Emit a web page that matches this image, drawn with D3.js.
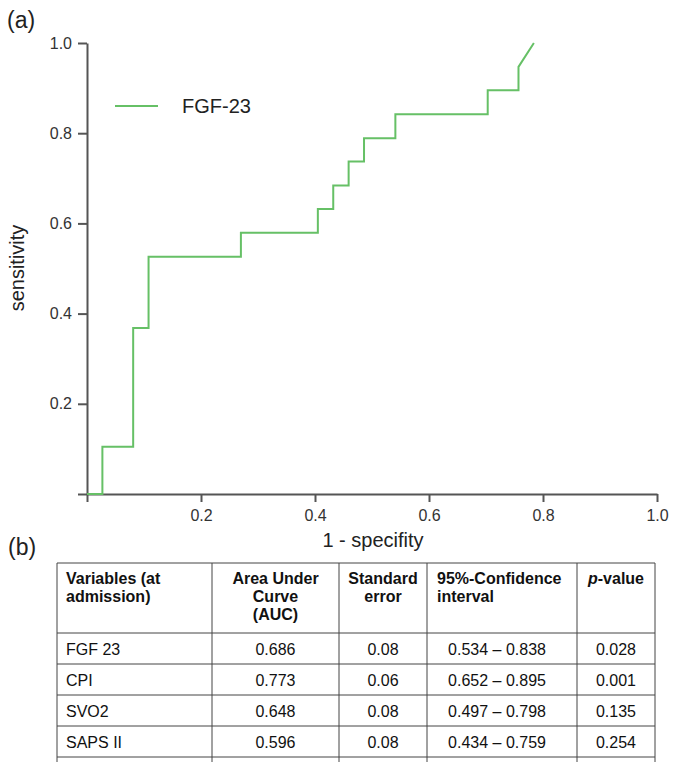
<html>
<head>
<script src="https://cdn.jsdelivr.net/npm/d3@7"></script>
<style>
  body { margin: 0; background: #fff; }
  text { font-family: Arial, "Liberation Sans", sans-serif; }
</style>
</head>
<body>
<svg width="676" height="762"></svg>
<script>
// ROC curve vertices for FGF-23
var rocFpr  = [0, 0.027, 0.027, 0.081, 0.081, 0.108, 0.108, 0.270, 0.270, 0.405, 0.405, 0.432, 0.432, 0.459, 0.459, 0.486, 0.486, 0.541, 0.541, 0.703, 0.703, 0.757, 0.757, 0.784]
var rocSens = [0, 0, 0.105, 0.105, 0.368, 0.368, 0.526, 0.526, 0.579, 0.579, 0.632, 0.632, 0.684, 0.684, 0.737, 0.737, 0.789, 0.789, 0.842, 0.842, 0.895, 0.895, 0.947, 1.0]
var tickVals = [0, 0.2, 0.4, 0.6, 0.8, 1.0]
var seriesName = 'FGF-23'

// table (b)
var headers = [['Variables (at', 'admission)'], ['Area Under', 'Curve', '(AUC)'], ['Standard', 'error'], ['95%-Confidence', 'interval'], ['p-value']]
var variables = ['FGF 23', 'CPI', 'SVO2', 'SAPS II']
var auc = ['0.686', '0.773', '0.648', '0.596']
var stdErr = ['0.08', '0.06', '0.08', '0.08']
var ci = ['0.534 – 0.838', '0.652 – 0.895', '0.497 – 0.798', '0.434 – 0.759']
var pValue = ['0.028', '0.001', '0.135', '0.254']

var svg = d3.select('svg')
var green = '#66c066'

var x = d3.scaleLinear().domain([0, 1]).range([87, 657])
var y = d3.scaleLinear().domain([0, 1]).range([494, 43])
var fmt = function(d){ return d === 0 ? '' : d3.format('.1f')(d) }

var gy = svg.append('g').attr('transform', 'translate(87,0)')
    .call(d3.axisLeft(y).tickValues(tickVals).tickFormat(fmt).tickSize(9).tickSizeOuter(0).tickPadding(6))
var gx = svg.append('g').attr('transform', 'translate(0,494)')
    .call(d3.axisBottom(x).tickValues(tickVals).tickFormat(fmt).tickSize(8).tickSizeOuter(0).tickPadding(8))
svg.selectAll('.domain, .tick line').attr('stroke', '#555').attr('stroke-width', 2)
svg.selectAll('.tick text').attr('font-size', 16).attr('fill', '#333')

// curve
var pts = rocFpr.map(function(d, i){ return [d, rocSens[i]] })
svg.append('path')
    .datum(pts)
    .attr('fill', 'none')
    .attr('stroke', green)
    .attr('stroke-width', 2)
    .attr('d', d3.line().x(function(d){ return x(d[0]) }).y(function(d){ return y(d[1]) }))

// legend
svg.append('line').attr('x1', 115).attr('x2', 158).attr('y1', 106).attr('y2', 106)
    .attr('stroke', green).attr('stroke-width', 2)
svg.append('text').attr('x', 182).attr('y', 113).attr('font-size', 20).attr('fill', '#222').text(seriesName)

// labels
svg.append('text').attr('x', 7).attr('y', 28).attr('font-size', 23).attr('fill', '#222').text('(a)')
svg.append('text').attr('x', 8).attr('y', 555).attr('font-size', 23).attr('fill', '#222').text('(b)')
svg.append('text').attr('transform', 'translate(24,268) rotate(-90)').attr('text-anchor', 'middle')
    .attr('font-size', 20).attr('fill', '#222').text('sensitivity')
svg.append('text').attr('x', 373).attr('y', 547).attr('text-anchor', 'middle')
    .attr('font-size', 20).attr('fill', '#222').text('1 - specifity')

// table
var colX = [57, 212, 339, 427, 577, 655]
var rowY = [563, 633, 664, 695, 726, 757, 790]
var tbl = svg.append('g')
tbl.selectAll('line.v').data(colX).enter().append('line')
    .attr('x1', function(d){ return d }).attr('x2', function(d){ return d })
    .attr('y1', rowY[0]).attr('y2', 762)
    .attr('stroke', '#444').attr('stroke-width', 1)
tbl.selectAll('line.h').data(rowY.slice(0, 6)).enter().append('line')
    .attr('x1', colX[0]).attr('x2', colX[5])
    .attr('y1', function(d){ return d }).attr('y2', function(d){ return d })
    .attr('stroke', '#444').attr('stroke-width', 1)

var headAnchor = ['start', 'middle', 'middle', 'start', 'middle']
var headX = [66, 275.5, 383, 437, 616]
headers.forEach(function(lines, c){
    lines.forEach(function(s, k){
        var t = tbl.append('text').attr('x', headX[c]).attr('y', 584 + k * 18)
            .attr('text-anchor', headAnchor[c]).attr('font-size', 16).attr('font-weight', 'bold').attr('fill', '#111')
        if (s === 'p-value') {
            t.append('tspan').attr('font-style', 'italic').text('p')
            t.append('tspan').text('-value')
        } else t.text(s)
    })
})

var cols = [variables, auc, stdErr, ci, pValue]
var cellX = [66, 275.5, 383, 497, 616]
var cellAnchor = ['start', 'middle', 'middle', 'middle', 'middle']
cols.forEach(function(col, c){
    tbl.selectAll(null).data(col).enter().append('text')
        .attr('x', cellX[c])
        .attr('y', function(d, i){ return (rowY[i + 1] + rowY[i + 2]) / 2 + 6 })
        .attr('text-anchor', cellAnchor[c])
        .attr('font-size', 16).attr('fill', '#111')
        .text(function(d){ return d })
})
</script>
</body>
</html>
